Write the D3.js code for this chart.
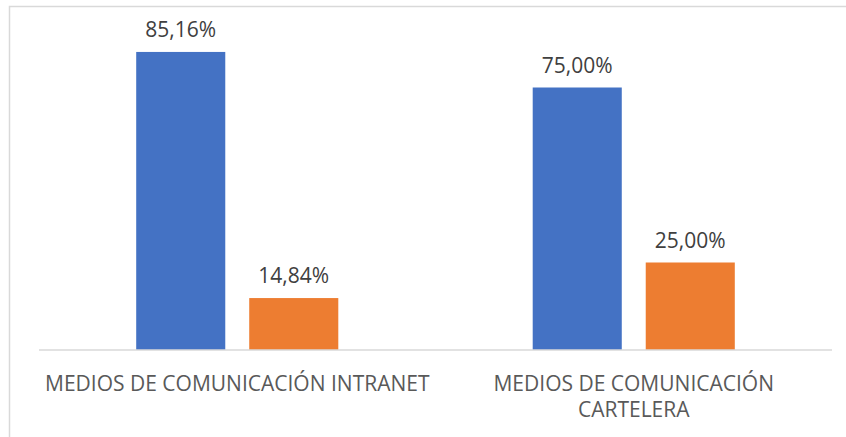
<!DOCTYPE html>
<html>
<head>
<meta charset="utf-8">
<script src="https://cdn.jsdelivr.net/npm/d3@7"></script>
<style>
  body { margin: 0; background: #fff; }
  text { font-family: "Open Sans", sans-serif; }
</style>
</head>
<body>
<div id="graph"></div>
<script>
const categories = ["MEDIOS DE COMUNICACIÓN INTRANET", "MEDIOS DE COMUNICACIÓN CARTELERA"];
const categoryLines = [["MEDIOS DE COMUNICACIÓN INTRANET"], ["MEDIOS DE COMUNICACIÓN", "CARTELERA"]];
const series = ["Sí", "No"];
const valuesSi = [85.16, 75.00];
const valuesNo = [14.84, 25.00];
const colors = ["#4472C4", "#ED7D31"];

document.addEventListener('DOMContentLoaded', () => {
  let width = 846, height = 437;
  let left = 39, right = 832, base = 350;

  let svg = d3.select("#graph").append("svg").attr("width", width).attr("height", height);

  // chart frame
  svg.append("rect").attr("x", 9.5).attr("y", 6.5).attr("width", 860).attr("height", 460)
    .attr("fill", "none").attr("stroke", "#d9d9d9").attr("stroke-width", 1.5);

  let x = d3.scaleBand().domain(categories).range([left, right]);
  let x1 = d3.scaleBand().domain(series).range([0, x.bandwidth()]).paddingInner(0.212).paddingOuter(0.86);
  let y = d3.scaleLinear().domain([0, 100]).range([base, 0]);

  let data = [];
  categories.forEach((c, i) => {
    data.push({cat: c, s: "Sí", v: valuesSi[i], color: colors[0]});
    data.push({cat: c, s: "No", v: valuesNo[i], color: colors[1]});
  });

  svg.selectAll("rect.bar").data(data).enter().append("rect")
    .attr("class", "bar")
    .attr("x", d => x(d.cat) + x1(d.s))
    .attr("y", d => y(d.v))
    .attr("width", x1.bandwidth())
    .attr("height", d => base - y(d.v))
    .attr("fill", d => d.color);

  svg.selectAll("text.val").data(data).enter().append("text")
    .attr("class", "val")
    .attr("x", d => x(d.cat) + x1(d.s) + x1.bandwidth() / 2)
    .attr("y", d => y(d.v) - 15)
    .attr("text-anchor", "middle")
    .attr("font-size", "21px")
    .attr("fill", "#404040")
    .text(d => d.v.toFixed(2).replace(".", ",") + "%");

  // axis line
  svg.append("line").attr("x1", left).attr("x2", right).attr("y1", base).attr("y2", base)
    .attr("stroke", "#d9d9d9").attr("stroke-width", 1.5);

  categories.forEach((c, i) => {
    let t = svg.append("text")
      .attr("x", x(c) + x.bandwidth() / 2)
      .attr("y", 391)
      .attr("text-anchor", "middle")
      .attr("font-size", "21px")
      .attr("fill", "#595959");
    categoryLines[i].forEach((line, j) => {
      t.append("tspan").attr("x", x(c) + x.bandwidth() / 2).attr("dy", j ? 26 : 0).text(line);
    });
  });
});
</script>
</body>
</html>
